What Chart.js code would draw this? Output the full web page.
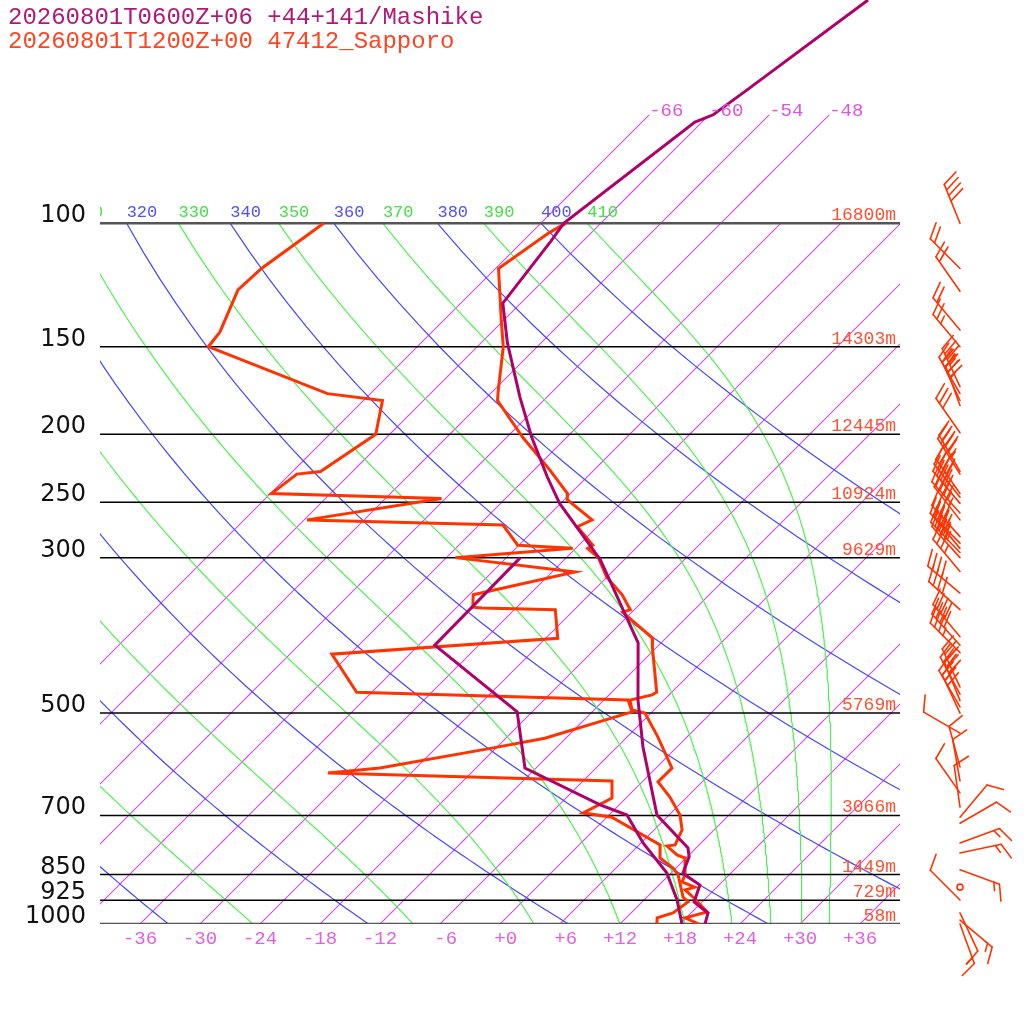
<!DOCTYPE html>
<html lang="en">
<head>
<meta charset="UTF-8">
<title>Skew-T Mashike / Sapporo</title>
<script src="https://cdn.jsdelivr.net/npm/chart.js"></script>
<style>
    html, body { margin: 0; padding: 0; background: #fff; }
    #wrap { width: 1024px; height: 1024px; }
</style>
</head>
<body>
<div id="wrap"><canvas id="skewt" width="1024" height="1024"></canvas></div>
<script>
// Mashike (model run) temperature and dewpoint, hPa / degC
const mashikeTempP = [48, 64.5, 70, 71.7, 100, 106, 130, 148, 177, 202, 230, 251, 302, 397, 479, 559, 699, 779, 802, 846, 880, 930, 964.5, 1000];
const mashikeTempT = [-55.6, -58.7, -59.6, -60.7, -63.7, -63.2, -61.8, -57.4, -50.7, -45.5, -40.0, -36.1, -26.4, -14.3, -8.6, -3.4, 4.8, 11.2, 12.2, 13.2, 16.1, 17.2, 19.7, 20.5];
const mashikeDewP = [300, 400, 498, 599, 676, 699, 766, 846, 924, 1000];
const mashikeDewT = [-34.6, -34.4, -19.5, -13.1, -1.9, 1.8, 6.2, 11.6, 15.3, 18.2];

// Sapporo 47412 radiosonde
const sapporoTempP = [100, 103, 116, 139, 150, 174, 179, 202, 225, 243, 248, 265, 271, 288, 291, 300, 320, 339, 356, 359, 391, 402, 467, 471, 479, 495, 500, 541, 599, 627, 659, 699, 734, 771, 774, 797, 805, 851, 871, 886, 894, 918, 961, 980, 1000];
const sapporoTempT = [-63.5, -64.2, -65.7, -59.9, -57.4, -53.4, -52.6, -46.4, -40.4, -36.3, -35.7, -31.2, -32.0, -28.6, -28.8, -26.8, -24.0, -20.7, -18.4, -18.9, -13.3, -12.5, -7.5, -7.7, -9.4, -8.2, -6.6, -2.9, 1.6, 1.6, 4.3, 7.1, 8.8, 9.6, 8.9, 10.8, 11.9, 13.6, 14.0, 15.8, 15.1, 16.8, 19.5, 17.9, 19.9];
const sapporoDewP = [100, 116, 124.5, 143, 150, 175, 179, 200, 226, 228, 243, 247, 265, 269.5, 288, 291, 300, 314.5, 339, 353, 354, 356, 391, 412, 467, 479, 498, 543, 561, 599, 609, 625, 661, 694, 704, 771, 805, 832, 851, 915, 930, 964.5, 980, 997];
const sapporoDewT = [-87.7, -89.4, -89.6, -87.2, -86.9, -70.3, -64.1, -61.4, -63.2, -65.3, -65.9, -48.4, -59.7, -39.6, -36.1, -30.3, -41.1, -27.7, -35.6, -34.4, -33.4, -25.9, -22.8, -43.8, -37.5, -9.6, -8.0, -14.1, -18.4, -27.6, -32.3, -3.1, -1.4, -2.8, 0.5, 8.1, 9.4, 11.7, 12.9, 15.6, 16.6, 16.2, 15.1, 15.6];

// Sapporo winds: pressure, direction (deg), speed (kt)
const windP = [100, 116, 125, 142, 150, 171, 175, 179, 182, 199, 226, 228, 243, 246, 251, 259, 265, 280, 286, 291, 295, 300, 314, 337, 356, 389, 400, 410, 459, 470, 480, 490, 500, 534, 597, 625, 650, 681, 704, 718, 766, 792, 837, 886, 924, 964, 987, 1000];
const windDir = [338, 315, 325, 320, 320, 335, 330, 335, 340, 325, 330, 328, 325, 322, 320, 318, 322, 318, 315, 320, 316, 318, 320, 310, 312, 320, 318, 315, 335, 332, 338, 330, 335, 300, 345, 350, 325, 352, 40, 60, 70, 78, 110, 0, 315, 155, 130, 160];
const windSpd = [40, 20, 20, 20, 25, 35, 30, 35, 30, 30, 45, 45, 40, 45, 40, 45, 45, 40, 45, 40, 45, 40, 35, 40, 40, 40, 40, 35, 30, 30, 30, 30, 30, 10, 10, 10, 10, 10, 10, 10, 15, 15, 15, 0, 10, 10, 15, 15];

// mandatory levels and their heights
const pressLevels = [100, 150, 200, 250, 300, 500, 700, 850, 925, 1000];
const heightLabels = ['16800m', '14303m', '12445m', '10924m', '9629m', '5769m', '3066m', '1449m', '729m', '58m'];

// background grid
const tempTicks = [-36, -30, -24, -18, -12, -6, 0, 6, 12, 18, 24, 30, 36];
const isotherms = [-66, -60, -54, -48, -42, -36, -30, -24, -18, -12, -6, 0, 6, 12, 18, 24, 30, 36];
const thetaLines = [240, 260, 280, 300, 320, 340, 360, 380, 400];
const thetaELines = [250, 270, 290, 310, 330, 350, 370, 390, 410];
const thetaEStart = [-24.7, -8.7, 3.4, 12.0, 18.5, 23.2, 27.1, 30.2, 32.9]; // degC at 1000 hPa

const SKEW = 30.43;             // degC per ln(p) unit, gives 45 degree isotherms
const Y_TOP = 924 / 304.3;

function lnp(p) { return Math.log(1000 / p); }
function pt(p, t) { return { x: t + SKEW * lnp(p), y: lnp(p) }; }
function series(ps, ts) { return ps.map((p, i) => pt(p, ts[i])); }

// moist adiabat helpers
function satMix(p, tK) {
    const tc = tK - 273.15;
    const es = 6.112 * Math.exp(17.67 * tc / (tc + 243.5));
    return 0.622 * es / (p - es);
}
function moistSlope(p, tK) {
    const rs = satMix(p, tK);
    const Rd = 287.04, cp = 1005.7, Lv = 2.501e6;
    return (Rd * tK + Lv * rs) / (cp + (Lv * Lv * rs * 0.622) / (Rd * tK * tK)) / p;
}
function moistLine(t0) {
    const out = [];
    let p = 1000, tK = t0 + 273.15;
    const dp = -5;
    out.push(pt(p, tK - 273.15));
    while (p > 100.001) {
        const k1 = moistSlope(p, tK);
        const k2 = moistSlope(p + dp / 2, tK + dp / 2 * k1);
        const k3 = moistSlope(p + dp / 2, tK + dp / 2 * k2);
        const k4 = moistSlope(p + dp, tK + dp * k3);
        tK += dp / 6 * (k1 + 2 * k2 + 2 * k3 + k4);
        p += dp;
        out.push(pt(p, tK - 273.15));
    }
    return { data: out, t100: tK - 273.15 };
}

const datasets = [];
function addLine(data, color, width, order) {
    datasets.push({
        data: data, borderColor: color, backgroundColor: color, borderWidth: width, pointRadius: 0,
        showLine: true, fill: false, tension: 0, order: order
    });
}

// soundings
addLine(series(mashikeTempP, mashikeTempT), 'rgb(176,0,106)', 3, 0);
addLine(series(mashikeDewP, mashikeDewT), 'rgb(176,0,106)', 3, 0);
addLine(series(sapporoTempP, sapporoTempT), 'rgb(255,51,0)', 3, 1);
addLine(series(sapporoDewP, sapporoDewT), 'rgb(255,51,0)', 3, 1);

// pressure levels
pressLevels.forEach(p => {
    const edge = (p === 100 || p === 1000);
    addLine([{ x: -40, y: lnp(p) }, { x: 40, y: lnp(p) }], edge ? 'rgb(85,85,85)' : 'rgb(0,0,0)', edge ? 2.5 : 1.5, 2);
});

// pseudo adiabats
const moistTop = {};
thetaELines.forEach((th, i) => {
    const m = moistLine(thetaEStart[i]);
    moistTop[th] = m.t100;
    addLine(m.data, 'rgb(80,240,80)', 1.2, 3);
});

// dry adiabats
const dryTop = {};
thetaLines.forEach(th => {
    const d = [];
    for (let p = 1000; p >= 100; p -= 10) d.push(pt(p, th * Math.pow(p / 1000, 0.2857) - 273.15));
    dryTop[th] = th * Math.pow(0.1, 0.2857) - 273.15;
    addLine(d, 'rgb(70,70,255)', 1.2, 4);
});

// isotherms: the coldest ones reach 70 hPa, the rest stop at 100 hPa
isotherms.forEach(t => {
    const top = t <= -48 ? 70 : 100;
    const d = [];
    for (let p = 1000; p >= top; p -= 10) d.push(pt(p, t));
    d.push(pt(top, t));
    addLine(d, 'rgb(218,72,240)', 1.1, 5);
});

function drawBarb(ctx, x0, y0, dir, spd) {
    if (spd < 2.5) {
        ctx.beginPath();
        ctx.arc(x0, y0, 3, 0, Math.PI * 2);
        ctx.stroke();
        return;
    }
    const a = dir * Math.PI / 180;
    const ux = Math.sin(a), uy = -Math.cos(a);
    const L = 42, F = 17, gap = 6;
    const tx = x0 + ux * L, ty = y0 + uy * L;
    ctx.beginPath();
    ctx.moveTo(x0, y0);
    ctx.lineTo(tx, ty);
    ctx.stroke();
    const r = 65 * Math.PI / 180;
    const fx = ux * Math.cos(r) - uy * Math.sin(r);
    const fy = ux * Math.sin(r) + uy * Math.cos(r);
    let s = Math.round(spd / 5) * 5;
    let pos = 0;
    while (s >= 50) {
        const bx = tx - ux * pos, by = ty - uy * pos;
        ctx.beginPath();
        ctx.moveTo(bx, by);
        ctx.lineTo(bx + fx * F, by + fy * F);
        ctx.lineTo(bx - ux * gap * 1.5, by - uy * gap * 1.5);
        ctx.closePath();
        ctx.fill();
        pos += gap * 1.8;
        s -= 50;
    }
    while (s >= 10) {
        const bx = tx - ux * pos, by = ty - uy * pos;
        ctx.beginPath();
        ctx.moveTo(bx, by);
        ctx.lineTo(bx + fx * F, by + fy * F);
        ctx.stroke();
        pos += gap;
        s -= 10;
    }
    if (s >= 5) {
        if (pos === 0) pos = gap;
        const bx = tx - ux * pos, by = ty - uy * pos;
        ctx.beginPath();
        ctx.moveTo(bx, by);
        ctx.lineTo(bx + fx * F / 2, by + fy * F / 2);
        ctx.stroke();
    }
}

const decorations = {
    id: 'decorations',
    afterDraw(chart) {
        const ctx = chart.ctx;
        const xs = chart.scales.x, ys = chart.scales.y;
        const px = (p, t) => xs.getPixelForValue(t + SKEW * lnp(p));
        const py = p => ys.getPixelForValue(lnp(p));
        ctx.save();

        // title
        ctx.font = '24px "Liberation Mono", monospace';
        ctx.textAlign = 'left';
        ctx.textBaseline = 'alphabetic';
        ctx.fillStyle = '#b0187a';
        ctx.fillText('20260801T0600Z+06 +44+141/Mashike', 8, 24);
        ctx.fillStyle = '#ff4420';
        ctx.fillText('20260801T1200Z+00 47412_Sapporo', 8, 48);

        // pressure labels on the left
        ctx.font = '24px "DejaVu Sans", sans-serif';
        ctx.textAlign = 'right';
        ctx.fillStyle = '#111';
        pressLevels.forEach(p => ctx.fillText(String(p), 86, py(p) - 1));

        // heights on the right
        ctx.font = '18px "Liberation Mono", monospace';
        ctx.fillStyle = '#ff5030';
        pressLevels.forEach((p, i) => ctx.fillText(heightLabels[i], 896, py(p) - 3));

        // temperature ticks under the diagram
        ctx.font = '19px "Liberation Mono", monospace';
        ctx.textAlign = 'center';
        ctx.fillStyle = '#e060e0';
        tempTicks.forEach(t => {
            const s = (t >= 0 ? '+' : '-') + Math.abs(t);
            ctx.fillText(s.padStart(3, ' '), px(1000, t), 944);
        });

        // isotherm labels at the top ends
        ctx.textAlign = 'left';
        ctx.fillStyle = '#dd55dd';
        isotherms.filter(t => t <= -48).forEach(t => ctx.fillText('-' + Math.abs(t), px(70, t), py(70) + 1));

        // adiabat labels along 100 hPa, clipped to the plot
        ctx.save();
        ctx.beginPath();
        ctx.rect(chart.chartArea.left, 150, chart.chartArea.right - chart.chartArea.left, 100);
        ctx.clip();
        ctx.font = '17px "Liberation Mono", monospace';
        ctx.fillStyle = '#5050ff';
        thetaLines.forEach(th => ctx.fillText(String(th), px(100, dryTop[th]), py(100) - 6));
        ctx.fillStyle = '#44e044';
        thetaELines.forEach(th => ctx.fillText(String(th), px(100, moistTop[th]), py(100) - 6));
        ctx.restore();

        // wind barbs
        ctx.strokeStyle = '#ff3300';
        ctx.fillStyle = '#ff3300';
        ctx.lineWidth = 1.6;
        ctx.lineCap = 'round';
        windP.forEach((p, i) => drawBarb(ctx, 960, py(p), windDir[i], windSpd[i]));

        ctx.restore();
    }
};

new Chart(document.getElementById('skewt'), {
    type: 'scatter',
    data: { datasets: datasets },
    options: {
        responsive: false,
        animation: false,
        devicePixelRatio: 1,
        events: [],
        layout: { padding: { left: 100, right: 124, top: 0, bottom: 100 } },
        scales: {
            x: { type: 'linear', min: -40, max: 40, display: false },
            y: { type: 'linear', min: 0, max: Y_TOP, display: false }
        },
        plugins: { legend: { display: false }, tooltip: { enabled: false } }
    },
    plugins: [decorations]
});
</script>
</body>
</html>
